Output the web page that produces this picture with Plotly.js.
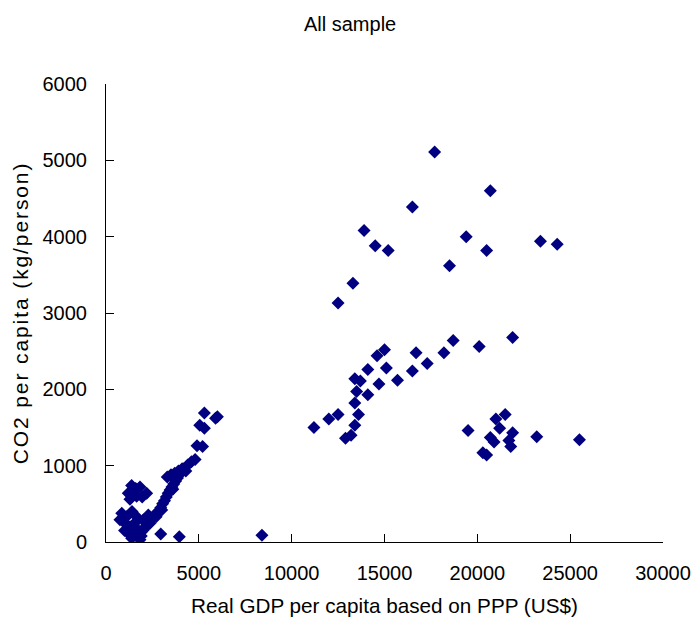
<!DOCTYPE html>
<html>
<head>
<meta charset="utf-8">
<script src="https://cdn.plot.ly/plotly-3.0.1.min.js"></script>
<style>
html,body{margin:0;padding:0;background:#fff;}
#chart{width:696px;height:622px;}
#chart .ytitle{letter-spacing:1.9px;}
</style>
</head>
<body>
<div id="chart"></div>
<script>
// Real GDP per capita based on PPP (US$)
const gdp = [
  // high-income upper group
  17700, 20700, 16500, 13900, 14500, 15200, 19400, 20500, 18500, 23400, 24300, 13300, 12500,
  // middle rising band
  11200, 12000, 12500, 12900, 13200, 13400, 13600, 13400, 13500, 13400, 13700, 14100, 14100,
  14700, 14600, 15000, 15100, 15700, 16500, 16700, 17300, 18200, 18700, 20100, 21900,
  // lower right group
  19500, 21000, 21500, 21200, 20700, 20900, 21900, 21700, 21800, 20300, 20500, 23200, 25500,
  // isolated
  8400, 2950, 3950,
  // top of low-income band
  5300, 5900, 6000, 5050, 5300, 4900, 5200,
  // diagonal chain
  1900, 2050, 2200, 2350, 2500, 2650, 2800, 2950, 3050, 3150, 3250, 3350, 3450, 3550, 3650,
  3750, 3850, 3950, 4050, 4200, 4400, 4600, 4800,
  3300, 3500, 3700, 3900, 4100, 2700, 3000, 3600, 4300,
  // upper small blob
  1380, 1600, 1830, 2190, 1200, 1290, 1650, 1450, 1950,
  // lower blob
  850, 750, 1020, 1290, 1470, 1200, 1650, 1830, 1380, 2010, 2280, 2370, 2010, 1650, 1100,
  1550, 1250, 1900, 1000, 1400, 2150, 1750
];
// CO2 per capita (kg/person)
const co2 = [
  5110, 4600, 4390, 4080, 3880, 3820, 4000, 3820, 3620, 3940, 3900, 3390, 3130,
  1500, 1610, 1670, 1360, 1400, 1530, 1670, 1820, 1970, 2140, 2110, 1930, 2260,
  2070, 2440, 2520, 2280, 2120, 2240, 2480, 2340, 2480, 2640, 2560, 2680,
  1460, 1610, 1670, 1490, 1370, 1310, 1430, 1330, 1250, 1170, 1140, 1380, 1340,
  90, 105, 70,
  1690, 1620, 1640, 1530, 1490, 1260, 1250,
  130, 180, 230, 280, 320, 360, 400, 450, 500, 540, 590, 640, 680, 720, 760,
  800, 840, 880, 920, 960, 1010, 1050, 1080,
  850, 880, 900, 930, 960, 330, 420, 690, 930,
  740, 700, 720, 640, 640, 560, 600, 690, 590,
  376, 290, 245, 200, 135, 114, 92, 30, 50, 157, 354, 245, 288, 331, 330,
  250, 170, 80, 150, 400, 200, 150
];

const trace = {
  x: gdp, y: co2, type: 'scatter', mode: 'markers',
  marker: {symbol: 'diamond', size: 10, color: '#000080', line: {width: 0}},
  hoverinfo: 'x+y'
};

const font = 'Liberation Sans, Arial, sans-serif';
const layout = {
  width: 696, height: 622,
  margin: {l: 106, r: 33, t: 84, b: 80},
  paper_bgcolor: '#fff', plot_bgcolor: '#fff',
  showlegend: false,
  font: {family: font, color: '#000', size: 20},
  title: {text: 'All sample', x: 0.503, xref: 'container', y: 0.961, yref: 'container', yanchor: 'middle',
          font: {family: font, size: 20, color: '#000'}},
  xaxis: {
    range: [0, 30000], dtick: 5000, tick0: 0, tickformat: 'd',
    showline: true, linecolor: '#000', linewidth: 1,
    ticks: 'inside', ticklen: 8, tickcolor: '#000',
    showgrid: false, zeroline: false, mirror: false,
    ticklabelstandoff: 13,
    tickfont: {family: font, size: 20, color: '#000'},
    title: {text: 'Real GDP per capita based on PPP (US$)', standoff: 15, font: {family: font, size: 20.7, color: '#000'}}
  },
  yaxis: {
    range: [0, 6000], dtick: 1000, tick0: 0, tickformat: 'd',
    showline: true, linecolor: '#000', linewidth: 1,
    ticks: 'inside', ticklen: 8, tickcolor: '#000',
    showgrid: false, zeroline: false, mirror: false,
    ticklabelstandoff: 14,
    tickfont: {family: font, size: 20, color: '#000'},
    title: {text: 'CO2 per capita (kg/person)', standoff: 8, font: {family: font, size: 21, color: '#000'}}
  }
};

Plotly.newPlot('chart', [trace], layout, {displayModeBar: false, staticPlot: true});
</script>
</body>
</html>
